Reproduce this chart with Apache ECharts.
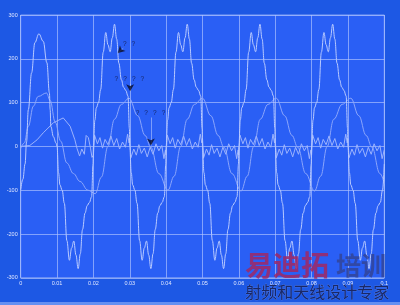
<!DOCTYPE html>
<html><head><meta charset="utf-8">
<script src="https://cdn.jsdelivr.net/npm/echarts/dist/echarts.min.js"></script>
<style>html,body{margin:0;padding:0;background:#1d58e4;}#c{width:400px;height:305px;}</style>
</head><body><div id="c"></div>
<script>
const waveA = [
[0,-99],[0.0006,-75],[0.0012,-40],[0.0016,10],[0.0021,84],[0.0030,168],[0.0039,237],[0.0050,257],[0.0062,240],[0.0072,191],[0.0079,122],[0.0081,84],[0.0083,45],[0.0090,22],[0.0097,8],
[0.0100,0],[0.0104,-60],[0.0108,-88],[0.0114,-100],[0.0120,-130],[0.0127,-215],[0.0134,-260],[0.0140,-232],[0.0146,-216],[0.0152,-248],[0.0158,-279],[0.0164,-245],[0.0170,-190],[0.0177,-152],[0.0183,-135],[0.0189,-128],[0.0195,-115],[0.0199,-40],
[0.0200,0],[0.0204,60],[0.0208,88],[0.0214,100],[0.0220,130],[0.0227,215],[0.0234,260],[0.0240,232],[0.0246,216],[0.0252,248],[0.0258,279],[0.0264,245],[0.0270,190],[0.0277,152],[0.0283,135],[0.0289,128],[0.0295,115],[0.0299,40],
[0.0300,0],[0.0304,-60],[0.0308,-88],[0.0314,-100],[0.0320,-130],[0.0327,-215],[0.0334,-260],[0.0340,-232],[0.0346,-216],[0.0352,-248],[0.0358,-279],[0.0364,-245],[0.0370,-190],[0.0377,-152],[0.0383,-135],[0.0389,-128],[0.0395,-115],[0.0399,-40],
[0.0400,0],[0.0404,60],[0.0408,88],[0.0414,100],[0.0420,130],[0.0427,215],[0.0434,260],[0.0440,232],[0.0446,216],[0.0452,248],[0.0458,279],[0.0464,245],[0.0470,190],[0.0477,152],[0.0483,135],[0.0489,128],[0.0495,115],[0.0499,40],
[0.0500,0],[0.0504,-60],[0.0508,-88],[0.0514,-100],[0.0520,-130],[0.0527,-215],[0.0534,-260],[0.0540,-232],[0.0546,-216],[0.0552,-248],[0.0558,-279],[0.0564,-245],[0.0570,-190],[0.0577,-152],[0.0583,-135],[0.0589,-128],[0.0595,-115],[0.0599,-40],
[0.0600,0],[0.0604,60],[0.0608,88],[0.0614,100],[0.0620,130],[0.0627,215],[0.0634,260],[0.0640,232],[0.0646,216],[0.0652,248],[0.0658,279],[0.0664,245],[0.0670,190],[0.0677,152],[0.0683,135],[0.0689,128],[0.0695,115],[0.0699,40],
[0.0700,0],[0.0704,-60],[0.0708,-88],[0.0714,-100],[0.0720,-130],[0.0727,-215],[0.0734,-260],[0.0740,-232],[0.0746,-216],[0.0752,-248],[0.0758,-279],[0.0764,-245],[0.0770,-190],[0.0777,-152],[0.0783,-135],[0.0789,-128],[0.0795,-115],[0.0799,-40],
[0.0800,0],[0.0804,60],[0.0808,88],[0.0814,100],[0.0820,130],[0.0827,215],[0.0834,260],[0.0840,232],[0.0846,216],[0.0852,248],[0.0858,279],[0.0864,245],[0.0870,190],[0.0877,152],[0.0883,135],[0.0889,128],[0.0895,115],[0.0899,40],
[0.0900,0],[0.0904,-60],[0.0908,-88],[0.0914,-100],[0.0920,-130],[0.0927,-215],[0.0934,-260],[0.0940,-232],[0.0946,-216],[0.0952,-248],[0.0958,-279],[0.0964,-245],[0.0970,-190],[0.0977,-152],[0.0983,-135],[0.0989,-128],[0.0995,-100],[0.1000,-40]
];
const waveB = [
[0,-5],[0.0010,8],[0.0021,46],[0.0035,92],[0.0048,114],[0.0071,122],[0.0081,105],[0.0095,55],[0.0110,12],[0.0127,-38],[0.0145,-62],[0.0163,-80],[0.0185,-100],[0.0205,-108],
[0.0222,-70],[0.0240,0],[0.0258,62],[0.0277,96],[0.0298,110],[0.0322,70],[0.0342,25],[0.0358,-2],[0.0380,-62],[0.0405,-100],
[0.0422,-68],[0.0440,0],[0.0458,62],[0.0478,96],[0.0500,110],[0.0523,70],[0.0543,25],[0.0559,-2],[0.0581,-62],[0.0606,-102],
[0.0623,-68],[0.0641,0],[0.0659,62],[0.0680,96],[0.0703,110],[0.0726,70],[0.0746,25],[0.0762,-2],[0.0784,-62],[0.0808,-102],
[0.0825,-68],[0.0843,0],[0.0861,62],[0.0884,96],[0.0908,110],[0.0930,70],[0.0950,25],[0.0966,-2],[0.0988,-62],[0.1000,-85]
];
const waveC = [
[0,0],[0.0025,2],[0.0045,15],[0.0062,31],[0.0090,54],[0.0117,65],[0.0136,46],[0.0149,15],[0.0155,-5],[0.0162,-22],[0.0168,-6],[0.0175,-18],[0.0180,25],[0.0186,20],[0.0192,-4],[0.0196,-25],
[0.0200,-20],[0.0203,26],[0.0211,6],[0.0218,20],[0.0225,-4],[0.0232,16],[0.0240,4],[0.0248,24],[0.0256,2],[0.0264,18],[0.0272,-6],[0.0280,10],[0.0288,-2],[0.0294,28],[0.0298,8],
[0.0300,18],[0.0303,-26],[0.0311,-6],[0.0318,-20],[0.0325,4],[0.0332,-16],[0.0340,-4],[0.0348,-24],[0.0356,-2],[0.0364,-18],[0.0372,6],[0.0380,-10],[0.0388,2],[0.0394,-28],[0.0398,-8],
[0.0400,-20],[0.0403,26],[0.0411,6],[0.0418,20],[0.0425,-4],[0.0432,16],[0.0440,4],[0.0448,24],[0.0456,2],[0.0464,18],[0.0472,-6],[0.0480,10],[0.0488,-2],[0.0494,28],[0.0498,8],
[0.0500,18],[0.0503,-26],[0.0511,-6],[0.0518,-20],[0.0525,4],[0.0532,-16],[0.0540,-4],[0.0548,-24],[0.0556,-2],[0.0564,-18],[0.0572,6],[0.0580,-10],[0.0588,2],[0.0594,-28],[0.0598,-8],
[0.0600,-20],[0.0603,26],[0.0611,6],[0.0618,20],[0.0625,-4],[0.0632,16],[0.0640,4],[0.0648,24],[0.0656,2],[0.0664,18],[0.0672,-6],[0.0680,10],[0.0688,-2],[0.0694,28],[0.0698,8],
[0.0700,18],[0.0703,-26],[0.0711,-6],[0.0718,-20],[0.0725,4],[0.0732,-16],[0.0740,-4],[0.0748,-24],[0.0756,-2],[0.0764,-18],[0.0772,6],[0.0780,-10],[0.0788,2],[0.0794,-28],[0.0798,-8],
[0.0800,-20],[0.0803,26],[0.0811,6],[0.0818,20],[0.0825,-4],[0.0832,16],[0.0840,4],[0.0848,24],[0.0856,2],[0.0864,18],[0.0872,-6],[0.0880,10],[0.0888,-2],[0.0894,28],[0.0898,8],
[0.0900,18],[0.0903,-26],[0.0911,-6],[0.0918,-20],[0.0925,4],[0.0932,-16],[0.0940,-4],[0.0948,-24],[0.0956,-2],[0.0964,-18],[0.0972,6],[0.0980,-10],[0.0988,2],[0.0994,-28],[0.1000,-8]
];
const noteLabels = ['?\u2002 ?', '?\u2002 ?\u2002 ?\u2002 ?', '?\u2002 ?\u2002 ?\u2002 ?'];
const noteTextPos = [[0.0298,234],[0.0299,153],[0.0357,75]];
const noteTail = [[0.0282,224],[0.0301,143],[0.0358,66]];
const noteHead = [[0.0267,213],[0.0301,126],[0.0358,2]];
const noteAngle = [135,180,180];

const gridColor = 'rgba(180,198,255,0.65)';
const chart = echarts.init(document.getElementById('c'), null, {renderer:'canvas'});
chart.setOption({
  animation:false,
  backgroundColor:'#1d58e4',
  grid:{left:20.7,right:15.7,top:15,bottom:27.2,show:true,backgroundColor:'#2a5ff5',borderColor:gridColor,borderWidth:1},
  xAxis:{type:'value',min:0,max:0.1,interval:0.01,
    axisLine:{show:false},axisTick:{show:false},
    splitLine:{show:true,lineStyle:{color:gridColor,width:1}},
    axisLabel:{color:'#dfe6ff',fontSize:5.5,fontFamily:'Liberation Sans, Arial',margin:3,
      formatter:v=>String(+v.toFixed(2))}},
  yAxis:{type:'value',min:-300,max:300,interval:100,
    axisLine:{show:false},axisTick:{show:false},
    splitLine:{show:true,lineStyle:{color:gridColor,width:1}},
    axisLabel:{color:'#dfe6ff',fontSize:5.5,fontFamily:'Liberation Sans, Arial',margin:3}},
  series:[
    {type:'line',data:waveB,showSymbol:false,smooth:0.4,smoothMonotone:'x',lineStyle:{color:'#8ca6fb',width:1},z:2},
    {type:'line',data:waveC,showSymbol:false,smooth:false,lineStyle:{color:'#9cb3fd',width:1},z:2},
    {type:'line',data:waveA,showSymbol:false,smooth:0.4,smoothMonotone:'x',lineStyle:{color:'#b9caff',width:1},z:3,
      markLine:{silent:true,animation:false,symbol:['none','none'],
        lineStyle:{color:'rgba(190,205,255,0.7)',width:0.8,type:'solid'},label:{show:false},
        data:noteTail.map((t,i)=>[{coord:t},{coord:noteHead[i]}])}},
    {type:'scatter',symbol:'arrow',symbolSize:[6,7],z:6,
      itemStyle:{color:'#0a0c24'},
      data:noteHead.map((p,i)=>({value:p,symbolRotate:noteAngle[i]}))},
    {type:'scatter',symbolSize:1,itemStyle:{color:'rgba(0,0,0,0)'},z:5,
      data:noteTextPos.map((p,i)=>({value:p,name:noteLabels[i]})),
      label:{show:true,position:'inside',formatter:p=>p.name,color:'#10163e',fontSize:6.5,fontFamily:'Liberation Sans, Arial'}}
  ],
  graphic:[
    {type:'text',left:245,top:251,z:10,style:{text:'易迪拓',font:'bold 28px "Noto Sans CJK SC"',fill:'rgba(160,40,100,0.85)'}},
    {type:'text',left:336,top:253,z:10,style:{text:'培训',font:'bold 25px "Noto Sans CJK SC"',fill:'rgba(50,68,150,0.85)'}},
    {type:'text',left:245,top:284,z:10,style:{text:'射频和天线设计专家',font:'16px "Noto Sans CJK SC"',fill:'#1a2866',stroke:'rgba(150,170,240,0.5)',lineWidth:0.5}},
    {type:'rect',left:0,top:302,z:1,shape:{width:400,height:3},style:{fill:'rgba(150,180,250,0.6)'}}
  ]
});
</script></body></html>
